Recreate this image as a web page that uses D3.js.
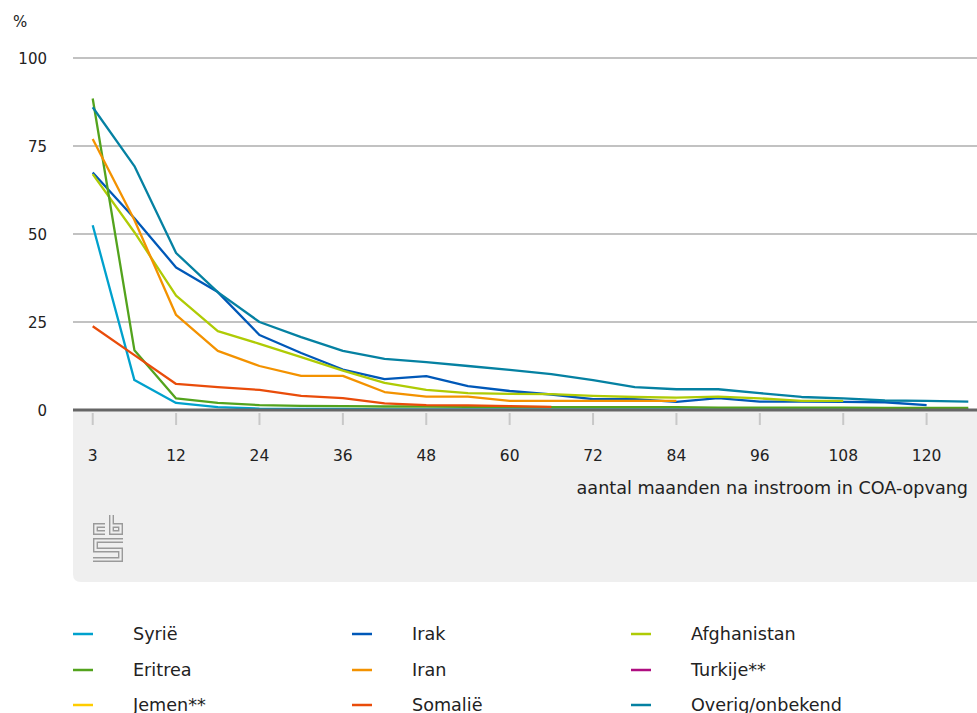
<!DOCTYPE html>
<html><head><meta charset="utf-8">
<script src="https://cdn.jsdelivr.net/npm/d3@7"></script>
<style>
html,body{margin:0;padding:0;background:#fff;}
svg{display:block;font-family:"DejaVu Sans",sans-serif;}
</style></head>
<body><svg id="chart" width="977" height="713"></svg>
<script>
const months = [3,6,12,18,24,30,36,42,48,54,60,66,72,78,84,90,96,102,108,114,120,126];
const tickMonths = [3,12,24,36,48,60,72,84,96,108,120];
const yTicks = [0,25,50,75,100];

const syrie       = [52.5,8.5,2.0,0.8,0.4,0.3,0.3,0.2,0.2,0.2,0.2,0.2,0.2,0.2,0.2,0.2,0.2,0.2,0.2,0.2,0.2,0.2];
const irak        = [67.5,54.5,40.5,33.5,21.3,16.2,11.5,8.8,9.6,6.8,5.4,4.4,3.1,3.1,2.3,3.4,2.4,2.4,2.3,2.2,1.4,null];
const afghanistan = [67,50.5,32.5,22.4,18.8,15,11.2,7.7,5.7,4.8,4.6,4.5,4.0,3.7,3.5,3.8,3.3,2.6,2.6,null,null,null];
const eritrea     = [88.5,17,3.3,2.0,1.4,1.2,1.1,1.0,1.0,0.9,0.9,0.8,0.8,0.8,0.8,0.7,0.7,0.7,0.7,0.6,0.6,0.6];
const iran        = [77,54,27,16.8,12.5,9.7,9.7,5.1,3.8,3.8,2.6,2.6,2.6,2.6,2.6,null,null,null,null,null,null,null];
const turkije     = [];
const jemen       = [];
const somalie     = [23.8,15.6,7.4,6.5,5.7,4.0,3.4,1.9,1.4,1.3,1.1,0.9,null,null,null,null,null,null,null,null,null,null];
const overig      = [86,69.3,44.6,33.5,25,20.7,16.8,14.5,13.6,12.5,11.4,10.2,8.5,6.5,5.9,5.9,4.8,3.7,3.3,2.7,2.6,2.4];

const seriesNames  = ["Syrië","Irak","Afghanistan","Eritrea","Iran","Turkije**","Jemen**","Somalië","Overig/onbekend"];
const seriesValues = [syrie,irak,afghanistan,eritrea,iran,turkije,jemen,somalie,overig];
const seriesColors = ["#00a1cd","#0058b8","#afcb05","#53a31d","#f39200","#af0e80","#ffcc00","#e94c0a","#0581a2"];

(function(){
const svg = d3.select("#chart");
const L = 73, R = 977, T = 58, B = 410;
const x = d3.scalePoint().domain(months).range([92.7, 968.3]);
const y = d3.scaleLinear().domain([0,100]).range([B, T]);

// grey panel below axis
svg.append("path")
  .attr("d", `M${L},${B} H${R+10} V582 H${L+8} Q${L},582 ${L},574 Z`)
  .attr("fill", "#efefef");

// gridlines
svg.append("g").selectAll("line").data(yTicks.filter(d=>d>0)).join("line")
  .attr("x1", L).attr("x2", R)
  .attr("y1", d=>y(d)).attr("y2", d=>y(d))
  .attr("stroke", "#858585").attr("stroke-width", 1.2);

// y labels
svg.append("g").selectAll("text").data(yTicks).join("text")
  .attr("x", 47).attr("y", d=>y(d)+5.5)
  .attr("text-anchor","end").attr("font-size",15).attr("fill","#222")
  .text(d=>d);
svg.append("text").attr("x",13).attr("y",27).attr("font-size",15).attr("fill","#222").text("%");

// x ticks
const gx = svg.append("g").attr("transform",`translate(0,${B})`);
gx.selectAll("line.tk").data(tickMonths).join("line").attr("class","tk")
  .attr("x1",d=>x(d)).attr("x2",d=>x(d)).attr("y1",3).attr("y2",15)
  .attr("stroke","#c8c8c8").attr("stroke-width",2);
gx.selectAll("text.tl").data(tickMonths).join("text").attr("class","tl")
  .attr("x",d=>x(d)).attr("y",51).attr("text-anchor","middle")
  .attr("font-size",15.5).attr("fill","#222").text(d=>d);

svg.append("text").attr("x",968).attr("y",494).attr("text-anchor","end")
  .attr("font-size",17.6).attr("fill","#222")
  .text("aantal maanden na instroom in COA-opvang");

// lines
const line = d3.line().defined(d=>d.v!=null).x(d=>x(d.m)).y(d=>y(d.v));
const gl = svg.append("g");
seriesValues.forEach((vals,i)=>{
  if(!vals.length) return;
  const data = months.map((m,j)=>({m, v: vals[j]===undefined?null:vals[j]}));
  gl.append("path").datum(data).attr("d", line)
    .attr("fill","none").attr("stroke",seriesColors[i])
    .attr("stroke-width",2.3).attr("stroke-linejoin","round");
});

// baseline
svg.append("line").attr("x1",L).attr("x2",R).attr("y1",B).attr("y2",B)
  .attr("stroke","#666").attr("stroke-width",3);

// cbs logo (outlined)
const logoPaths = [
  "M12,10.5 H2.5 V17.5 H12",
  "M18.5,0 V17.5 H27.5 V10.5 H18.5",
  "M30,25.5 H2.5 V35 H27.5 V44.5 H0"
];
const lg = svg.append("g").attr("transform","translate(93,515)").attr("fill","none");
logoPaths.forEach(p=>{
  lg.append("path").attr("d",p).attr("stroke","#9a9a9a").attr("stroke-width",5);
});
logoPaths.forEach(p=>{
  lg.append("path").attr("d",p).attr("stroke","#efefef").attr("stroke-width",2.2)
    .attr("stroke-linecap","square");
});

// legend
const legX = [73,352,631], legY = [634,670,705];
const lgd = svg.append("g");
seriesNames.forEach((name,k)=>{
  const col = k%3, row = Math.floor(k/3);
  lgd.append("line").attr("x1",legX[col]).attr("x2",legX[col]+20)
    .attr("y1",legY[row]).attr("y2",legY[row])
    .attr("stroke",seriesColors[k]).attr("stroke-width",2.5);
  lgd.append("text").attr("x",legX[col]+60).attr("y",legY[row]+6)
    .attr("font-size",17.6).attr("fill","#222").text(name);
});
})();
</script></body></html>
